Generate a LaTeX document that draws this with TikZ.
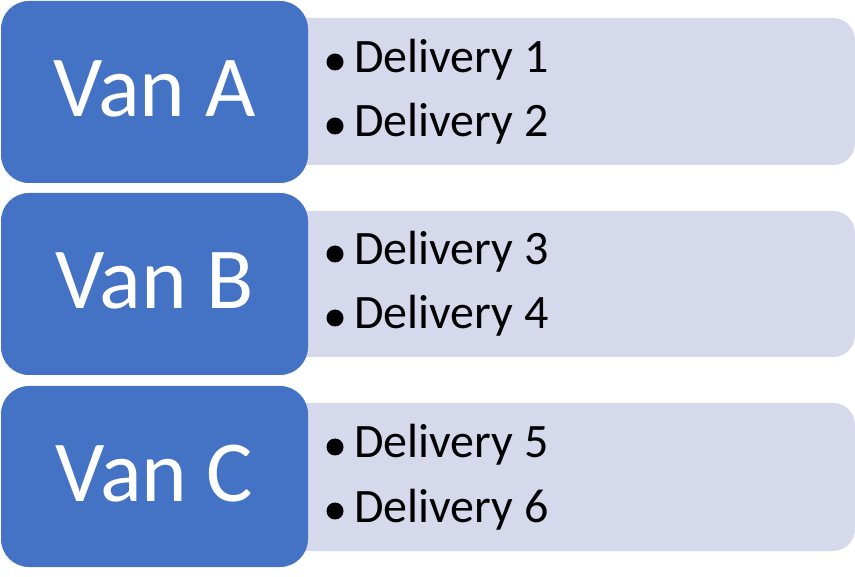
\documentclass[tikz,border=0pt]{standalone}
\usepackage{fontspec}
\setmainfont{Carlito}
\definecolor{vanblue}{HTML}{4472C4}
\definecolor{listbg}{HTML}{D5D9EB}
\tikzset{
  vanbox/.style={fill=vanblue, draw=none, rounded corners=28pt},
  listbox/.style={fill=listbg, draw=none, rounded corners=22pt},
  vantext/.style={text=white, font=\fontsize{87}{90}\selectfont, inner sep=0pt, anchor=base},
  itemtext/.style={text=black, font=\fontsize{48}{52}\selectfont, inner sep=0pt, anchor=base west},
  bulletdot/.style={circle, fill=black, minimum size=17pt, inner sep=0pt}
}
\begin{document}
\begin{tikzpicture}[x=1pt,y=-1pt]
\useasboundingbox (0,0) rectangle (855,577);
\foreach \n/\top/\ltop/\lbot/\bot/\lab/\a/\b [count=\i] in {
  A/1/18/165/183/Van A/1/2,
  B/193/211/357/375/Van B/3/4,
  C/386/403/551/567/Van C/5/6} {
  \path[listbox] (250,\ltop) rectangle (855,\lbot);
  \path[vanbox] (1,\top) rectangle (308,\bot);
  \node[vantext] (van\n) at (154.5,{\top+116}) {\lab};
  \node[bulletdot] (b\n1) at (335,{\top+61}) {};
  \node[itemtext] (d\n1) at (354,{\top+72}) {Delivery \a};
  \node[bulletdot] (b\n2) at (335,{\top+125}) {};
  \node[itemtext] (d\n2) at (354,{\top+136}) {Delivery \b};
}
\end{tikzpicture}
\end{document}
